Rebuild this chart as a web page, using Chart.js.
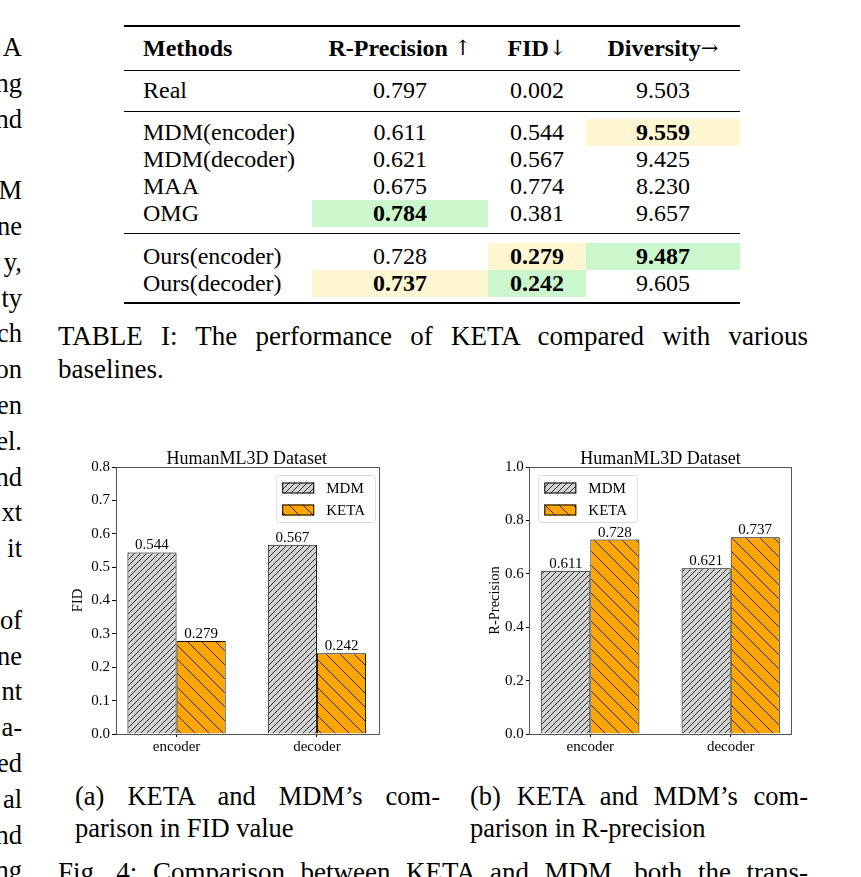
<!DOCTYPE html>
<html lang="en">
<head>
<meta charset="UTF-8">
<title>KETA vs MDM</title>
<script src="https://cdn.jsdelivr.net/npm/chart.js"></script>
<style>
  html, body { margin: 0; padding: 0; width: 861px; height: 877px; overflow: hidden; background: #fff; }
  body { position: relative; font-family: "Liberation Serif", "Times New Roman", serif; color: #000; }
  .ln { position: absolute; white-space: nowrap; }
  .just { text-align: justify; text-align-last: justify; }
  .cell { position: absolute; height: 27px; line-height: 27px; font-size: 24px; white-space: nowrap; }
  .arr { font-weight: normal; font-family: "DejaVu Serif", serif; font-size: 21px; position: relative; top: -1px; }
  .rule { position: absolute; left: 124px; width: 616px; background: #000; }
  .box { position: absolute; }
</style>
</head>
<body>
<div id="leftcol"></div>
<div id="table"></div>

<div class="ln just" style="left:58px; width:750px; top:320px; font-size:27px; line-height:33px;">TABLE I: The performance of KETA compared with various</div>
<div class="ln" style="left:58px; top:353px; font-size:27px; line-height:33px;">baselines.</div>

<div class="box" style="left:60px; top:430px;"><canvas id="fidChart" width="330" height="335"></canvas></div>
<div class="box" style="left:470px; top:430px;"><canvas id="rpChart" width="330" height="335"></canvas></div>

<div class="ln just" style="left:75px; width:365px; top:780px; font-size:26.5px; line-height:33px;">(a) KETA and MDM’s com-</div>
<div class="ln" style="left:75px; top:812px; font-size:26.5px; line-height:33px;">parison in FID value</div>
<div class="ln just" style="left:470px; width:338px; top:780px; font-size:26.5px; line-height:33px;">(b) KETA and MDM’s com-</div>
<div class="ln" style="left:470px; top:812px; font-size:26.5px; line-height:33px;">parison in R-precision</div>
<div class="ln just" style="left:58px; width:750px; top:856px; font-size:27px; line-height:33px;">Fig. 4: Comparison between KETA and MDM, both the trans-</div>

<script>
// chart data
const categories = ['encoder', 'decoder'];
const seriesNames = ['MDM', 'KETA'];
const fidMDM = [0.544, 0.567];
const fidKETA = [0.279, 0.242];
const rpMDM = [0.611, 0.621];
const rpKETA = [0.728, 0.737];

// table I
const methods = ['Real', 'MDM(encoder)', 'MDM(decoder)', 'MAA', 'OMG', 'Ours(encoder)', 'Ours(decoder)'];
const rPrecision = ['0.797', '0.611', '0.621', '0.675', '0.784', '0.728', '0.737'];
const fidValues = ['0.002', '0.544', '0.567', '0.774', '0.381', '0.279', '0.242'];
const diversity = ['9.503', '9.559', '9.425', '8.230', '9.657', '9.487', '9.605'];
const headers = ['Methods', 'R-Precision ↑', 'FID↓', 'Diversity→'];
// [row, col, colour] best / second best
const marked = [[1, 3, 'y'], [4, 1, 'g'], [5, 2, 'y'], [5, 3, 'g'], [6, 1, 'y'], [6, 2, 'g']];

// left column line ends (cropped)
const leftFrags = ['A', 'ng', 'nd', '', 'M', 'ne', 'y,', 'ty', 'ch', 'on', 'en', 'el.', 'nd', 'xt', ' it', '', 'of', 'ne', 'nt', 'a-', 'ed', 'al', 'nd', 'ng'];

(function buildLeft() {
    const el = document.getElementById('leftcol');
    leftFrags.forEach((t, i) => {
        const d = document.createElement('div');
        d.className = 'ln';
        d.style.cssText = 'right:' + (861 - 22) + 'px;top:' + (47 + i * 35.8 - 17) + 'px;font-size:26.5px;line-height:34px;';
        d.textContent = t;
        el.appendChild(d);
    });
})();

(function buildTable() {
    const el = document.getElementById('table');
    const colX = [124, 312, 488, 586, 740];
    const rowY = [90, 132, 159, 186, 213, 256, 283];
    const fills = { y: '#fff6d2', g: '#ccf7cc' };
    const add = (txt, css, cls) => {
        const d = document.createElement('div');
        d.className = cls || 'cell';
        d.style.cssText = css;
        d.textContent = txt;
        el.appendChild(d);
        return d;
    };
    [[25, 2], [70, 1], [111, 1], [233, 1], [302, 2]].forEach(r => add('', 'top:' + r[0] + 'px;height:' + r[1] + 'px;', 'rule'));
    headers.forEach((h, c) => {
        const css = c === 0 ? 'left:143px;' : 'left:' + colX[c] + 'px;width:' + (colX[c + 1] - colX[c]) + 'px;text-align:center;';
        const d = add('', css + 'top:' + (48 - 13.5) + 'px;font-weight:bold;');
        d.innerHTML = h.replace(/([↑↓→])/, '<span class="arr">$1</span>');
    });
    methods.forEach((m, r) => {
        const top = rowY[r] - 13.5;
        const vals = [m, rPrecision[r], fidValues[r], diversity[r]];
        vals.forEach((v, c) => {
            const mk = marked.find(k => k[0] === r && k[1] === c);
            let css = c === 0 ? 'left:143px;' : 'left:' + colX[c] + 'px;width:' + (colX[c + 1] - colX[c]) + 'px;text-align:center;';
            css += 'top:' + top + 'px;';
            if (mk) css += 'background:' + fills[mk[2]] + ';font-weight:bold;';
            add(v, css);
        });
    });
})();

function hatch(bg, step, dir) {
    const c = document.createElement('canvas');
    c.width = step; c.height = step;
    const g = c.getContext('2d');
    g.fillStyle = bg;
    g.fillRect(0, 0, step, step);
    g.strokeStyle = '#1a1a1a';
    g.lineWidth = 0.9;
    g.beginPath();
    for (let k = -step; k <= step; k += step) {
        if (dir > 0) { g.moveTo(k, step); g.lineTo(k + step, 0); }
        else { g.moveTo(k, 0); g.lineTo(k + step, step); }
    }
    g.stroke();
    return g.createPattern(c, 'repeat');
}

const serif = '"Liberation Serif", "Times New Roman", serif';

// frame, title, bar values and legend box like matplotlib
const paperPlugin = {
    id: 'paper',
    afterDatasetsDraw(chart, args, opts) {
        const ctx = chart.ctx;
        const a = chart.chartArea;
        ctx.save();
        // bar values
        ctx.fillStyle = '#000';
        ctx.font = '15px ' + serif;
        ctx.textAlign = 'center';
        ctx.textBaseline = 'alphabetic';
        chart.data.datasets.forEach((ds, i) => {
            chart.getDatasetMeta(i).data.forEach((bar, j) => {
                ctx.fillText(ds.data[j].y.toFixed(3), bar.x, bar.y - 3);
            });
        });
        // frame
        ctx.strokeStyle = '#555';
        ctx.lineWidth = 1;
        ctx.strokeRect(Math.round(a.left) + 0.5, Math.round(a.top) + 0.5, Math.round(a.right - a.left), Math.round(a.bottom - a.top));
        // title
        ctx.font = '18px ' + serif;
        ctx.fillText(opts.title, (a.left + a.right) / 2, a.top - 3);
        // legend
        ctx.font = '15px ' + serif;
        const textW = Math.max(...chart.data.datasets.map(d => ctx.measureText(d.label).width));
        const w = 6 + 32 + 12 + textW + 10;
        const h = 47;
        const x0 = opts.legendSide === 'right' ? a.right - 3 - w : a.left + 9;
        const y0 = a.top + 8;
        ctx.fillStyle = 'rgba(255,255,255,0.85)';
        ctx.strokeStyle = '#dcdcdc';
        ctx.beginPath();
        ctx.roundRect(x0 + 0.5, y0 + 0.5, w, h, 3);
        ctx.fill();
        ctx.stroke();
        chart.data.datasets.forEach((ds, i) => {
            const cy = y0 + 13 + i * 22;
            ctx.fillStyle = ds.backgroundColor;
            ctx.fillRect(x0 + 6, cy - 5.5, 32, 11);
            ctx.strokeStyle = '#000';
            ctx.strokeRect(x0 + 6.5, cy - 5, 31, 10);
            ctx.fillStyle = '#000';
            ctx.textAlign = 'left';
            ctx.textBaseline = 'middle';
            ctx.fillText(ds.label, x0 + 50, cy + 1);
        });
        ctx.restore();
    }
};

function drawChart(id, mdm, keta, yMax, yStep, yTitle, yTitlePad, axisW, padRight, side, title) {
    const toPoints = arr => categories.map((c, i) => ({ x: i, y: arr[i] }));
    const ctx = document.getElementById(id).getContext('2d');
    return new Chart(ctx, {
        type: 'bar',
        data: {
            datasets: [{
                label: seriesNames[0],
                data: toPoints(mdm),
                backgroundColor: hatch('#d3d3d3', 6, 1),
                borderColor: '#000',
                borderWidth: 1
            }, {
                label: seriesNames[1],
                data: toPoints(keta),
                backgroundColor: hatch('#ffa500', 14, -1),
                borderColor: '#000',
                borderWidth: 1
            }]
        },
        options: {
            responsive: false,
            animation: false,
            devicePixelRatio: 1,
            categoryPercentage: 0.7,
            barPercentage: 1.0,
            layout: { padding: { top: 37, right: padRight, left: 0, bottom: 0 } },
            plugins: {
                legend: { display: false },
                tooltip: { enabled: false },
                paper: { title: title, legendSide: side }
            },
            scales: {
                x: {
                    type: 'linear',
                    offset: false,
                    min: -0.435,
                    max: 1.435,
                    afterBuildTicks: s => { s.ticks = categories.map((c, i) => ({ value: i })); },
                    afterFit: s => { s.height = 31; },
                    ticks: {
                        callback: v => categories[v],
                        color: '#000',
                        font: { family: serif, size: 15 },
                        padding: 1,
                        maxRotation: 0,
                        autoSkip: false
                    },
                    grid: { offset: false, drawOnChartArea: false, tickLength: 3, color: '#000' },
                    border: { display: false }
                },
                y: {
                    min: 0,
                    max: yMax,
                    afterFit: s => { s.width = axisW; },
                    ticks: {
                        stepSize: yStep,
                        callback: v => v.toFixed(1),
                        color: '#000',
                        font: { family: serif, size: 15 },
                        padding: 2
                    },
                    grid: { drawOnChartArea: false, tickLength: 3.5, color: '#000' },
                    border: { display: false },
                    title: {
                        display: true,
                        text: yTitle,
                        color: '#000',
                        font: { family: serif, size: 14.5 },
                        padding: { top: yTitlePad, bottom: 0 }
                    }
                }
            }
        },
        plugins: [paperPlugin]
    });
}

drawChart('fidChart', fidMDM, fidKETA, 0.8, 0.1, 'FID', 9, 55.5, 12, 'right', 'HumanML3D Dataset');
drawChart('rpChart', rpMDM, rpKETA, 1.0, 0.2, 'R-Precision', 16, 59.3, 8.3, 'left', 'HumanML3D Dataset');
</script>
</body>
</html>
